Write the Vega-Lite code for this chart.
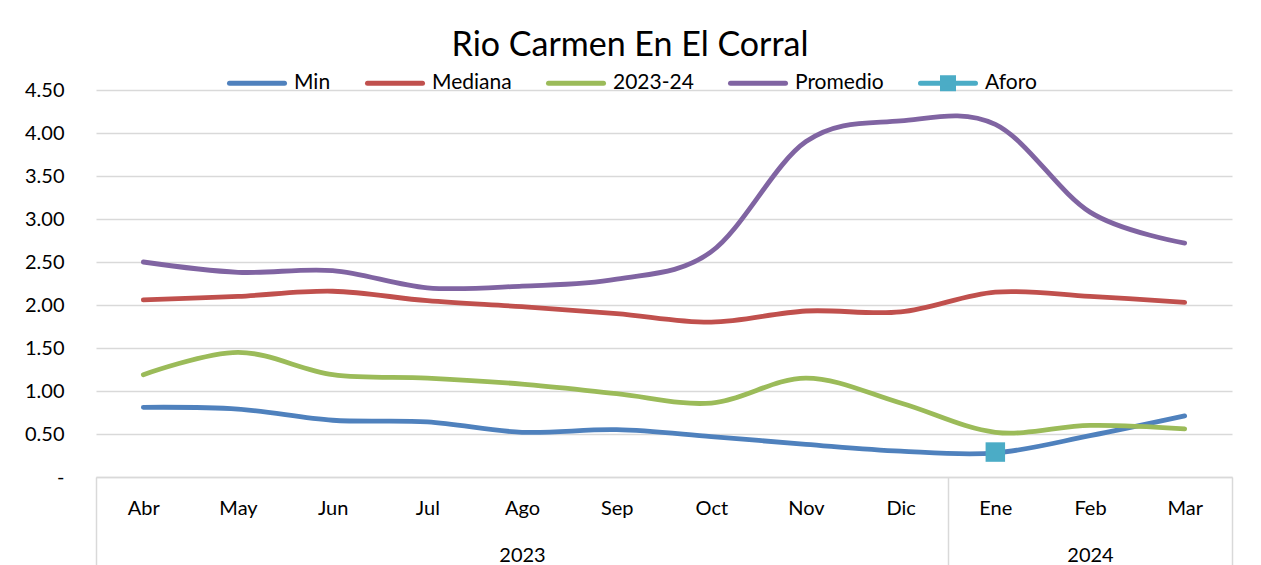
{
  "$schema": "https://vega.github.io/schema/vega-lite/v6.json",
  "width": 1136,
  "height": 387,
  "autosize": {"type": "none"},
  "padding": {"left": 96, "top": 90, "right": 29, "bottom": 88},
  "background": "white",
  "title": {
    "text": "Rio Carmen En El Corral",
    "font": "Lato",
    "fontSize": 34,
    "fontWeight": "normal",
    "color": "#000000",
    "anchor": "middle",
    "baseline": "alphabetic",
    "offset": -37,
    "dx": -34
  },
  "config": {
    "view": {"stroke": null},
    "font": "Lato",
    "axis": {"labelFont": "Lato", "labelFontSize": 20, "labelColor": "#000000"}
  },
  "data": {
    "values": [
      {"mes": "Abr", "serie": "Min", "valor": 0.81},
      {"mes": "May", "serie": "Min", "valor": 0.79},
      {"mes": "Jun", "serie": "Min", "valor": 0.66},
      {"mes": "Jul", "serie": "Min", "valor": 0.64},
      {"mes": "Ago", "serie": "Min", "valor": 0.52},
      {"mes": "Sep", "serie": "Min", "valor": 0.55},
      {"mes": "Oct", "serie": "Min", "valor": 0.47},
      {"mes": "Nov", "serie": "Min", "valor": 0.38},
      {"mes": "Dic", "serie": "Min", "valor": 0.30},
      {"mes": "Ene", "serie": "Min", "valor": 0.28},
      {"mes": "Feb", "serie": "Min", "valor": 0.48},
      {"mes": "Mar", "serie": "Min", "valor": 0.71},
      {"mes": "Abr", "serie": "Mediana", "valor": 2.06},
      {"mes": "May", "serie": "Mediana", "valor": 2.10},
      {"mes": "Jun", "serie": "Mediana", "valor": 2.16},
      {"mes": "Jul", "serie": "Mediana", "valor": 2.05},
      {"mes": "Ago", "serie": "Mediana", "valor": 1.98},
      {"mes": "Sep", "serie": "Mediana", "valor": 1.90},
      {"mes": "Oct", "serie": "Mediana", "valor": 1.80},
      {"mes": "Nov", "serie": "Mediana", "valor": 1.93},
      {"mes": "Dic", "serie": "Mediana", "valor": 1.92},
      {"mes": "Ene", "serie": "Mediana", "valor": 2.15},
      {"mes": "Feb", "serie": "Mediana", "valor": 2.10},
      {"mes": "Mar", "serie": "Mediana", "valor": 2.03},
      {"mes": "Abr", "serie": "2023-24", "valor": 1.19},
      {"mes": "May", "serie": "2023-24", "valor": 1.45},
      {"mes": "Jun", "serie": "2023-24", "valor": 1.19},
      {"mes": "Jul", "serie": "2023-24", "valor": 1.15},
      {"mes": "Ago", "serie": "2023-24", "valor": 1.08},
      {"mes": "Sep", "serie": "2023-24", "valor": 0.97},
      {"mes": "Oct", "serie": "2023-24", "valor": 0.86},
      {"mes": "Nov", "serie": "2023-24", "valor": 1.15},
      {"mes": "Dic", "serie": "2023-24", "valor": 0.86},
      {"mes": "Ene", "serie": "2023-24", "valor": 0.52},
      {"mes": "Feb", "serie": "2023-24", "valor": 0.60},
      {"mes": "Mar", "serie": "2023-24", "valor": 0.56},
      {"mes": "Abr", "serie": "Promedio", "valor": 2.50},
      {"mes": "May", "serie": "Promedio", "valor": 2.38},
      {"mes": "Jun", "serie": "Promedio", "valor": 2.40},
      {"mes": "Jul", "serie": "Promedio", "valor": 2.20},
      {"mes": "Ago", "serie": "Promedio", "valor": 2.22},
      {"mes": "Sep", "serie": "Promedio", "valor": 2.30},
      {"mes": "Oct", "serie": "Promedio", "valor": 2.62},
      {"mes": "Nov", "serie": "Promedio", "valor": 3.90},
      {"mes": "Dic", "serie": "Promedio", "valor": 4.14},
      {"mes": "Ene", "serie": "Promedio", "valor": 4.10},
      {"mes": "Feb", "serie": "Promedio", "valor": 3.08},
      {"mes": "Mar", "serie": "Promedio", "valor": 2.72},
      {"mes": "Ene", "serie": "Aforo", "valor": 0.29}
    ]
  },
  "encoding": {
    "x": {
      "field": "mes",
      "type": "ordinal",
      "sort": ["Abr", "May", "Jun", "Jul", "Ago", "Sep", "Oct", "Nov", "Dic", "Ene", "Feb", "Mar"],
      "scale": {"paddingInner": 0, "paddingOuter": 0},
      "axis": {
        "title": null,
        "labelAngle": 0,
        "labelBaseline": "top",
        "domainColor": "#d9d9d9",
        "domainWidth": 1.5,
        "tickBand": "extent",
        "tickSize": 88,
        "tickWidth": 1.5,
        "tickColor": {"condition": {"test": "datum.value === 'Dic' || datum.value === 'Mar' || !datum.value", "value": "#d9d9d9"}, "value": "transparent"},
        "labelPadding": -67,
        "labelLineHeight": 47,
        "labelExpr": "datum.value === 'Ago' ? ['Ago', '2023'] : datum.value === 'Feb' ? ['Feb', '2024'] : datum.value"
      }
    },
    "y": {
      "field": "valor",
      "type": "quantitative",
      "scale": {"domain": [0, 4.5], "nice": false},
      "axis": {
        "title": null,
        "values": [0, 0.5, 1, 1.5, 2, 2.5, 3, 3.5, 4, 4.5],
        "labelExpr": "datum.value === 0 ? '-  ' : format(datum.value, '.2f')",
        "domain": false,
        "ticks": false,
        "grid": true,
        "gridColor": "#d9d9d9",
        "gridWidth": 1.5,
        "labelPadding": 32
      }
    },
    "color": {
      "field": "serie",
      "type": "nominal",
      "scale": {
        "domain": ["Min", "Mediana", "2023-24", "Promedio", "Aforo"],
        "range": ["#4f81bd", "#c0504d", "#9bbb59", "#8064a2", "#4bacc6"]
      },
      "legend": {
        "orient": "none",
        "legendX": 131,
        "legendY": -37,
        "direction": "horizontal",
        "title": null,
        "symbolType": "stroke",
        "symbolSize": 3025,
        "symbolStrokeWidth": 5,
        "labelFont": "Lato",
        "labelFontSize": 21,
        "labelColor": "#000000",
        "labelOffset": 7,
        "columnPadding": 26,
        "encode": {
          "symbols": {
            "update": {
              "shape": {"signal": "datum.value === 'Aforo' ? 'M-1,0H1M-0.2,-0.2H0.2V0.2H-0.2Z' : 'M-1,0H1M0,-0.2M0,0.2'"},
              "fill": {"signal": "datum.value === 'Aforo' ? '#4bacc6' : 'transparent'"},
              "strokeWidth": {"value": 5},
              "strokeCap": {"value": "round"},
              "opacity": {"value": 1}
            }
          }
        }
      }
    }
  },
  "layer": [
    {
      "transform": [{"filter": "datum.serie !== 'Aforo'"}],
      "mark": {"type": "line", "interpolate": "cardinal", "strokeWidth": 4.8, "strokeCap": "round"}
    },
    {
      "transform": [{"filter": "datum.serie === 'Aforo'"}],
      "mark": {"type": "point", "shape": "square", "filled": true, "size": 380, "opacity": 1}
    }
  ]
}
